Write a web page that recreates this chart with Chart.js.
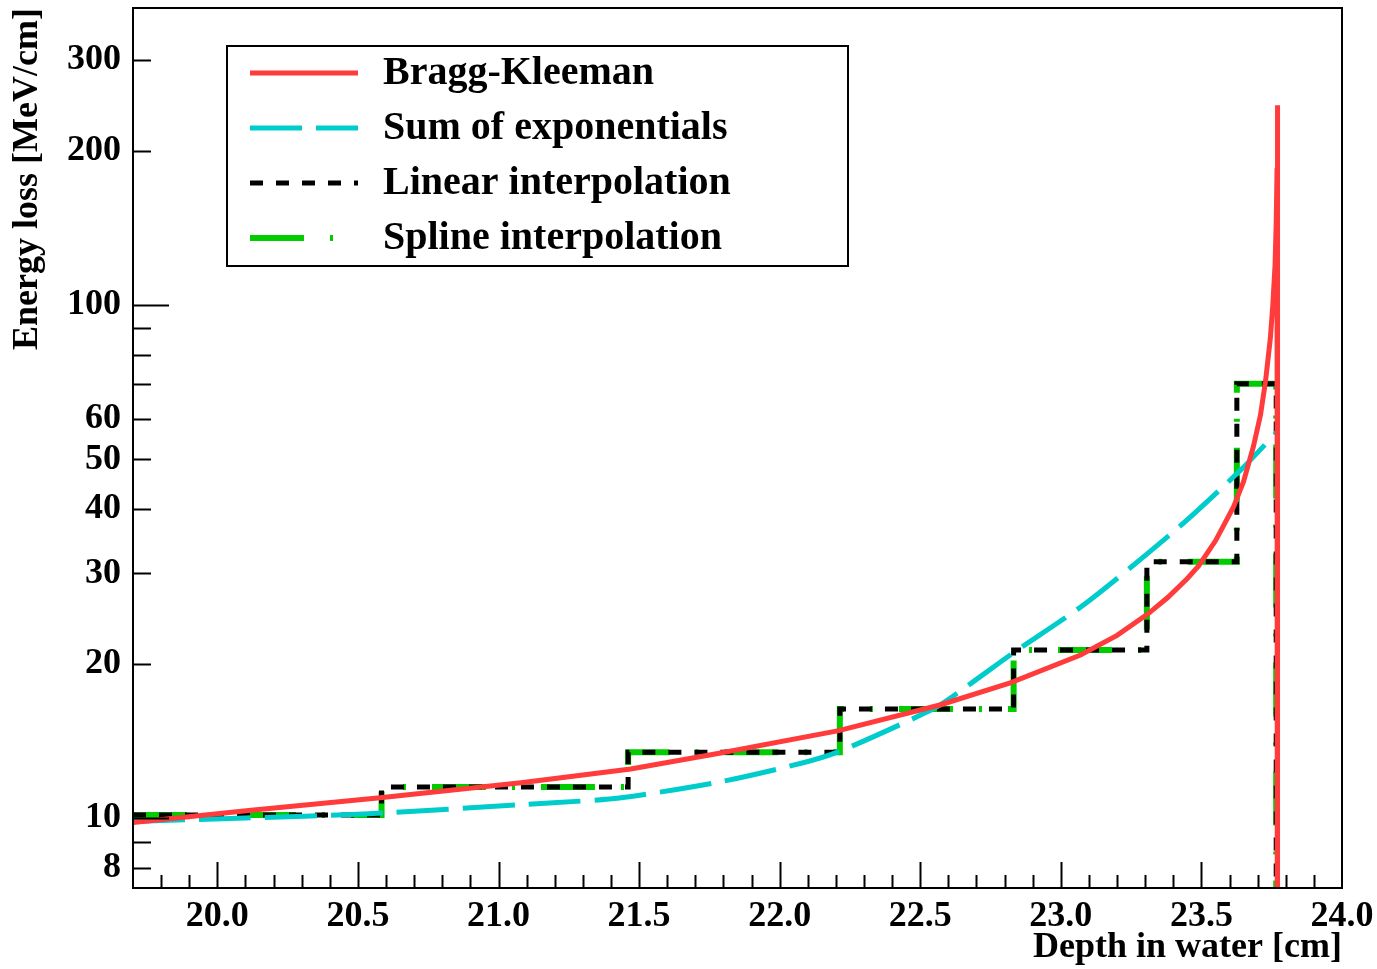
<!DOCTYPE html>
<html><head><meta charset="utf-8">
<script src="https://cdn.jsdelivr.net/npm/chart.js@4.4.0/dist/chart.umd.min.js"></script>
<style>html,body{margin:0;padding:0;background:#fff;overflow:hidden}canvas{display:block}</style>
</head><body>
<canvas id="c" width="1377" height="969"></canvas>
<script>
// ---- data ----
const depthBraggKleeman = [19.70, 20.12, 20.57, 21.08, 21.47, 21.79, 22.21, 22.57, 22.82, 23.07, 23.20, 23.31, 23.38, 23.45, 23.49, 23.55, 23.615, 23.65, 23.685, 23.71, 23.728, 23.745, 23.754, 23.762, 23.766, 23.769, 23.7705, 23.771];
const dedxBraggKleeman  = [9.80, 10.36, 10.94, 11.72, 12.46, 13.39, 14.80, 16.61, 18.34, 20.78, 22.7, 25.0, 26.9, 29.3, 31.0, 34.7, 40.5, 45.3, 53.0, 61.0, 71.0, 86.0, 100, 120, 145, 185, 245, 0.1];

const depthSumExp = [19.70, 20.10, 20.52, 21.18, 21.43, 21.79, 22.08, 22.21, 22.45, 22.57, 22.83, 23.09, 23.42, 23.64, 23.768];
const dedxSumExp  = [9.85, 10.00, 10.18, 10.70, 10.94, 11.77, 12.80, 13.47, 15.40, 16.61, 20.97, 26.25, 36.9, 47.7, 56.5];

const binEdges     = [19.70, 20.584, 21.461, 22.214, 22.832, 23.306, 23.626, 23.766];
const linearInterp = [10.14, 11.50, 13.43, 16.32, 21.26, 31.60, 70.20, 0.1];
const splineInterp = [10.14, 11.50, 13.43, 16.32, 21.26, 31.60, 70.20, 0.1];

const seriesLabels = ['Bragg-Kleeman', 'Sum of exponentials', 'Linear interpolation', 'Spline interpolation'];
const xTickValues = [20.0, 20.5, 21.0, 21.5, 22.0, 22.5, 23.0, 23.5, 24.0];
const yTickValues = [8, 9, 10, 20, 30, 40, 50, 60, 70, 80, 90, 100, 200, 300];
const yTickLabels = ['8', '', '10', '20', '30', '40', '50', '60', '', '', '', '100', '200', '300'];
const xTitle = 'Depth in water [cm]';
const yTitle = 'Energy loss [MeV/cm]';

// ---- presentation ----
const FONT = '"Liberation Serif", "Times New Roman", serif';
const pts = (xs, ys) => xs.map((x, i) => ({x, y: ys[i]}));
const noPad = s => { s.paddingTop = 0; s.paddingBottom = 0; s.paddingLeft = 0; s.paddingRight = 0; };

const axisPlugin = {
  id: 'rootAxes',
  afterDatasetsDraw(chart) {
    const {ctx, chartArea: a, scales: {x, y}} = chart;
    ctx.save();
    ctx.strokeStyle = '#000'; ctx.lineWidth = 2; ctx.setLineDash([]);
    ctx.beginPath();
    for (let k = 198; k <= 239; k++) {
      const px = Math.round(x.getPixelForValue(k / 10)) + 0.5;
      const len = (k % 5 === 0) ? 26 : 13;
      ctx.moveTo(px, a.bottom); ctx.lineTo(px, a.bottom - len);
    }
    yTickValues.forEach(v => {
      const py = Math.round(y.getPixelForValue(v)) + 0.5;
      const len = (v === 10 || v === 100) ? 36 : 18;
      ctx.moveTo(a.left, py); ctx.lineTo(a.left + len, py);
    });
    ctx.stroke();
    ctx.strokeRect(a.left, a.top, a.right - a.left, a.bottom - a.top);
    ctx.restore();
  }
};

const legendPlugin = {
  id: 'boxLegend',
  afterDatasetsDraw(chart) {
    const {ctx, chartArea: a} = chart;
    const x0 = a.left + 94, y0 = a.top + 38, w = 621, h = 220;
    ctx.save();
    ctx.fillStyle = '#fff'; ctx.fillRect(x0, y0, w, h);
    ctx.lineWidth = 2; ctx.strokeStyle = '#000'; ctx.setLineDash([]);
    ctx.strokeRect(x0, y0, w, h);
    chart.data.datasets.forEach((ds, i) => {
      const yy = y0 + 27 + i * 55;
      ctx.beginPath();
      ctx.setLineDash(ds.borderDash || []);
      ctx.lineWidth = ds.borderWidth; ctx.strokeStyle = ds.borderColor;
      ctx.moveTo(x0 + 23, yy); ctx.lineTo(x0 + 131, yy); ctx.stroke();
      ctx.setLineDash([]);
      ctx.fillStyle = '#000'; ctx.font = 'bold 40px ' + FONT;
      ctx.textBaseline = 'middle'; ctx.textAlign = 'left';
      ctx.fillText(ds.label, x0 + 156, yy + 1);
    });
    ctx.restore();
  }
};

new Chart(document.getElementById('c').getContext('2d'), {
  type: 'line',
  data: {
    datasets: [
      {label: seriesLabels[0], data: pts(depthBraggKleeman, dedxBraggKleeman), borderColor: '#ff3b3b', borderWidth: 5, pointRadius: 0, tension: 0, fill: false},
      {label: seriesLabels[1], data: pts(depthSumExp, dedxSumExp), borderColor: '#00cccc', borderWidth: 5, borderDash: [52, 14], pointRadius: 0, tension: 0.25, fill: false},
      {label: seriesLabels[2], data: pts(binEdges, linearInterp), borderColor: '#000000', borderWidth: 5, borderDash: [13, 13], stepped: 'before', pointRadius: 0, fill: false},
      {label: seriesLabels[3], data: pts(binEdges, splineInterp), borderColor: '#00cc00', borderWidth: 6, borderDash: [54, 26, 3, 26], stepped: 'before', pointRadius: 0, fill: false}
    ]
  },
  options: {
    responsive: false, animation: false, devicePixelRatio: 1,
    layout: {padding: {top: 8, right: 35, left: 0, bottom: 0}},
    plugins: {legend: {display: false}, tooltip: {enabled: false}},
    scales: {
      x: {
        type: 'linear', min: 19.7, max: 24.0,
        afterBuildTicks: s => { s.ticks = xTickValues.map(v => ({value: v})); },
        afterFit: s => { s.height = 81; noPad(s); },
        grid: {display: false, drawTicks: false}, border: {display: false},
        ticks: {autoSkip: false, maxRotation: 0, padding: 7, color: '#000', font: {family: FONT, size: 36, weight: 'bold'}, callback: v => Number(v).toFixed(1)},
        title: {display: true, text: xTitle, align: 'end', color: '#000', font: {family: FONT, size: 36, weight: 'bold'}, padding: {top: 0, bottom: 0}}
      },
      y: {
        type: 'logarithmic', min: 7.305, max: 379.2,
        afterBuildTicks: s => { s.ticks = yTickValues.map(v => ({value: v})); },
        afterFit: s => { s.width = 133; noPad(s); },
        grid: {display: false, drawTicks: false}, border: {display: false},
        ticks: {autoSkip: false, padding: 12, color: '#000', font: {family: FONT, size: 36, weight: 'bold'}, callback: (v, i) => yTickLabels[i]},
        title: {display: true, text: yTitle, align: 'end', color: '#000', font: {family: FONT, size: 36, weight: 'bold'}, padding: {top: 6, bottom: 0}}
      }
    }
  },
  plugins: [axisPlugin, legendPlugin]
});
</script>
</body></html>
